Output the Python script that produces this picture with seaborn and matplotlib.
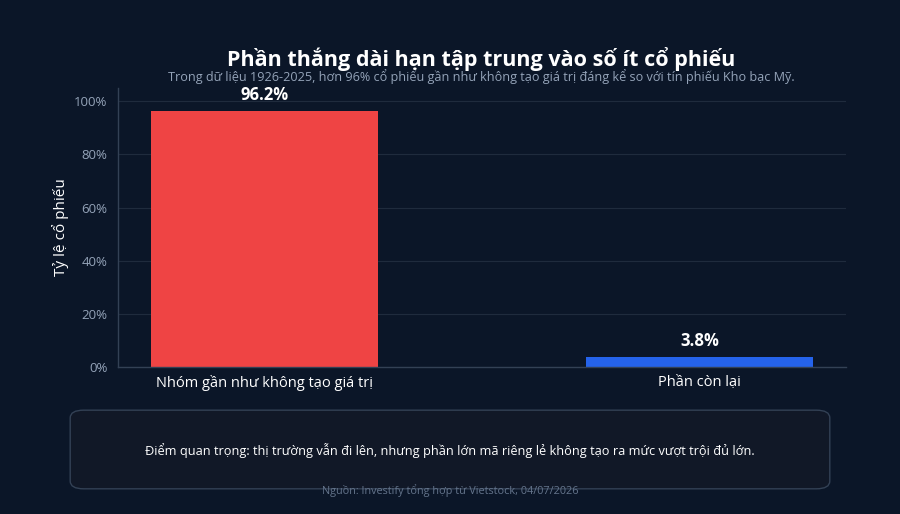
import matplotlib.pyplot as plt
import seaborn as sns
import pandas as pd
from matplotlib.patches import FancyBboxPatch

# dữ liệu
categories = ['Nhóm gần như không tạo giá trị', 'Phần còn lại']
values = [96.2, 3.8]
bar_colors = ['#ef4444', '#2563eb']
y_ticks = [0, 20, 40, 60, 80, 100]

bg = '#0b1628'
grid_c = '#1f2b3d'
muted = '#94a3b8'

sns.set_theme(style='dark')
plt.rcParams['font.family'] = ['Open Sans', 'Noto Sans', 'DejaVu Sans']

df = pd.DataFrame({'Nhóm': categories, 'Tỷ lệ': values})

fig = plt.figure(figsize=(9, 5.14), dpi=100, facecolor=bg)
ax = fig.add_axes([0.131, 0.286, 0.809, 0.543])
ax.set_facecolor(bg)

sns.barplot(ax=ax, data=df, x='Nhóm', y='Tỷ lệ', hue='Nhóm', palette=bar_colors,
            width=0.52, legend=False, saturation=1, edgecolor='none', linewidth=0)

# nhãn giá trị trên cột
for p, v in zip(ax.patches, values):
    ax.annotate(f'{v:.1f}%', (p.get_x() + p.get_width() / 2, p.get_height()),
                xytext=(0, 5), textcoords='offset points', ha='center', va='bottom',
                color='white', fontsize=12, fontweight='bold')

ax.set_xlim(-0.337, 1.337)
ax.set_ylim(0, 105)
ax.set_yticks(y_ticks)
ax.set_yticklabels([f'{t}%' for t in y_ticks])
ax.grid(axis='y', color=grid_c, linewidth=0.8)
ax.grid(axis='x', visible=False)
ax.set_axisbelow(True)

ax.tick_params(axis='y', colors=muted, labelsize=9.5, length=4, color='#334155')
ax.tick_params(axis='x', colors='white', labelsize=10.5, length=0, pad=6)
for s in ['top', 'right']:
    ax.spines[s].set_visible(False)
for s in ['left', 'bottom']:
    ax.spines[s].set_visible(True)
    ax.spines[s].set_color('#334155')
    ax.spines[s].set_linewidth(1)

ax.set_xlabel('')
ax.set_ylabel('Tỷ lệ cổ phiếu', color='white', fontsize=11, labelpad=4)

fig.text(0.535, 0.885, 'Phần thắng dài hạn tập trung vào số ít cổ phiếu', ha='center', va='center',
         color='white', fontsize=15.5, fontweight='bold')
fig.text(0.535, 0.852, 'Trong dữ liệu 1926-2025, hơn 96% cổ phiếu gần như không tạo giá trị đáng kể so với tín phiếu Kho bạc Mỹ.',
         ha='center', va='center', color=muted, fontsize=9.1)

# hộp ghi chú
box = FancyBboxPatch((0.078, 0.049), 0.844, 0.153, boxstyle='round,pad=0,rounding_size=0.015',
                     transform=fig.transFigure, facecolor='#111827', edgecolor='#334155', linewidth=1)
fig.patches.append(box)
fig.text(0.5, 0.123, 'Điểm quan trọng: thị trường vẫn đi lên, nhưng phần lớn mã riêng lẻ không tạo ra mức vượt trội đủ lớn.',
         ha='center', va='center', color='white', fontsize=9.2)
fig.text(0.5, 0.045, 'Nguồn: Investify tổng hợp từ Vietstock, 04/07/2026', ha='center', va='center',
         color='#64748b', fontsize=7.8)

fig.savefig('out.png', dpi=100, facecolor=bg)
